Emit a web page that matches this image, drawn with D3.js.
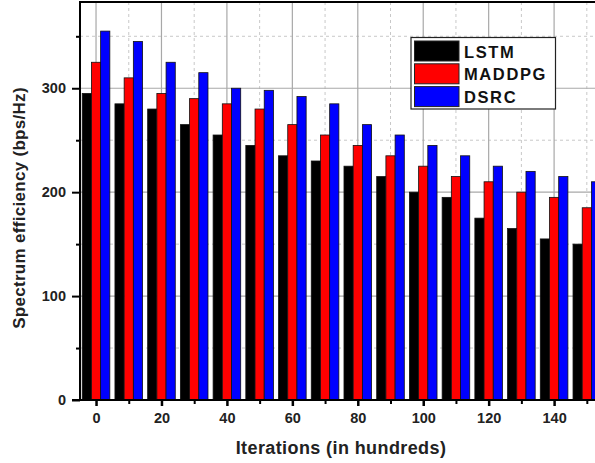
<!DOCTYPE html>
<html>
<head>
<meta charset="utf-8">
<script src="https://cdn.jsdelivr.net/npm/d3@7"></script>
<style>
  html, body { margin: 0; padding: 0; background: #fff; overflow: hidden; }
  text { font-family: Arial, "Liberation Sans", sans-serif; font-weight: bold; }
</style>
</head>
<body>
<div id="chart"></div>
<script>
// Data
const iterations = [0, 10, 20, 30, 40, 50, 60, 70, 80, 90, 100, 110, 120, 130, 140, 150];
const lstm   = [295, 285, 280, 265, 255, 245, 235, 230, 225, 215, 200, 195, 175, 165, 155, 150];
const maddpg = [325, 310, 295, 290, 285, 280, 265, 255, 245, 235, 225, 215, 210, 200, 195, 185];
const dsrc   = [355, 345, 325, 315, 300, 298, 292, 285, 265, 255, 245, 235, 225, 220, 215, 210];
const seriesNames = ['LSTM', 'MADDPG', 'DSRC'];
const seriesColors = ['#000000', '#ff0000', '#0000ff'];
const yTicks = [0, 100, 200, 300];
const xTicks = [0, 20, 40, 60, 80, 100, 120, 140];

const W = 595, H = 463;
const M = { left: 80, top: 2, bottom: 400 };

const svg = d3.select('#chart').append('svg')
  .attr('width', W).attr('height', H);

// scales (plot runs past the right edge like the cropped original)
const x = d3.scaleLinear().domain([-4.9, 152.5]).range([M.left, W]);
const y = d3.scaleLinear().domain([0, 383]).range([M.bottom, M.top]);
const bw = 9.2;

// grid
const grid = svg.append('g');
d3.range(10, 160, 20).forEach(v => {
  grid.append('line').attr('x1', x(v)).attr('x2', x(v)).attr('y1', M.top).attr('y2', M.bottom)
    .attr('stroke', '#c8c8c8').attr('stroke-width', 1).attr('stroke-dasharray', '3,3');
});
[50, 150, 250, 350].forEach(v => {
  grid.append('line').attr('x1', M.left).attr('x2', W).attr('y1', y(v)).attr('y2', y(v))
    .attr('stroke', '#c8c8c8').attr('stroke-width', 1).attr('stroke-dasharray', '3,3');
});
xTicks.forEach(v => {
  grid.append('line').attr('x1', x(v)).attr('x2', x(v)).attr('y1', M.top).attr('y2', M.bottom)
    .attr('stroke', '#a8a8a8').attr('stroke-width', 1.2);
});
[100, 200, 300].forEach(v => {
  grid.append('line').attr('x1', M.left).attr('x2', W).attr('y1', y(v)).attr('y2', y(v))
    .attr('stroke', '#a8a8a8').attr('stroke-width', 1.2);
});

// bars
const series = [lstm, maddpg, dsrc];
series.forEach((vals, si) => {
  svg.append('g').selectAll('rect').data(iterations).enter().append('rect')
    .attr('x', (d, i) => x(d) - 1.5 * bw + si * bw)
    .attr('y', (d, i) => y(vals[i]))
    .attr('width', bw)
    .attr('height', (d, i) => y(0) - y(vals[i]))
    .attr('fill', seriesColors[si])
    .attr('stroke', '#111')
    .attr('stroke-width', 0.8);
});

// frame top
svg.append('line').attr('x1', M.left).attr('x2', W).attr('y1', M.top).attr('y2', M.top)
  .attr('stroke', '#000').attr('stroke-width', 2);

// y axis
const yAxis = svg.append('g').attr('transform', `translate(${M.left},0)`)
  .call(d3.axisLeft(y).tickValues(yTicks).tickSize(8).tickPadding(6));
yAxis.select('.domain').remove();
yAxis.selectAll('line').attr('stroke-width', 2);
yAxis.selectAll('text').attr('font-size', 14.5).attr('fill', '#222');
svg.append('g').attr('transform', `translate(${M.left},0)`)
  .call(d3.axisLeft(y).tickValues([50, 150, 250, 350]).tickSize(4).tickFormat(''))
  .call(g => g.select('.domain').remove())
  .selectAll('line').attr('stroke-width', 2);
svg.append('line').attr('x1', M.left).attr('x2', M.left).attr('y1', M.top - 1).attr('y2', M.bottom)
  .attr('stroke', '#000').attr('stroke-width', 2);

// x axis
const xAxis = svg.append('g').attr('transform', `translate(0,${M.bottom})`)
  .call(d3.axisBottom(x).tickValues(xTicks).tickSize(6).tickPadding(7));
xAxis.select('.domain').remove();
xAxis.selectAll('line').attr('stroke-width', 2.5);
xAxis.selectAll('text').attr('font-size', 14.5).attr('fill', '#222');
svg.append('g').attr('transform', `translate(0,${M.bottom})`)
  .call(d3.axisBottom(x).tickValues(d3.range(10, 160, 20)).tickSize(4).tickFormat(''))
  .call(g => g.select('.domain').remove())
  .selectAll('line').attr('stroke-width', 2);
svg.append('line').attr('x1', M.left - 8).attr('x2', W).attr('y1', M.bottom).attr('y2', M.bottom)
  .attr('stroke', '#000').attr('stroke-width', 2);

// axis titles
svg.append('text').attr('x', 341).attr('y', 454).attr('text-anchor', 'middle')
  .attr('font-size', 18).attr('letter-spacing', 0.4).attr('fill', '#222').text('Iterations (in hundreds)');
svg.append('text').attr('transform', 'translate(25,208) rotate(-90)').attr('text-anchor', 'middle')
  .attr('font-size', 17).attr('letter-spacing', 0.3).attr('fill', '#222').text('Spectrum efficiency (bps/Hz)');

// legend
const lg = svg.append('g');
lg.append('rect').attr('x', 411).attr('y', 37.5).attr('width', 144.5).attr('height', 71.5)
  .attr('fill', '#fff').attr('stroke', '#222').attr('stroke-width', 1.2);
seriesNames.forEach((name, i) => {
  const yy = 41 + i * 22.8;
  lg.append('rect').attr('x', 414.5).attr('y', yy).attr('width', 44.5).attr('height', 20)
    .attr('fill', seriesColors[i]).attr('stroke', '#222').attr('stroke-width', 1);
  lg.append('text').attr('x', 464).attr('y', yy + 16.5).attr('font-size', 16.5)
    .attr('letter-spacing', 1.6).attr('fill', '#111').text(name);
});
</script>
</body>
</html>
